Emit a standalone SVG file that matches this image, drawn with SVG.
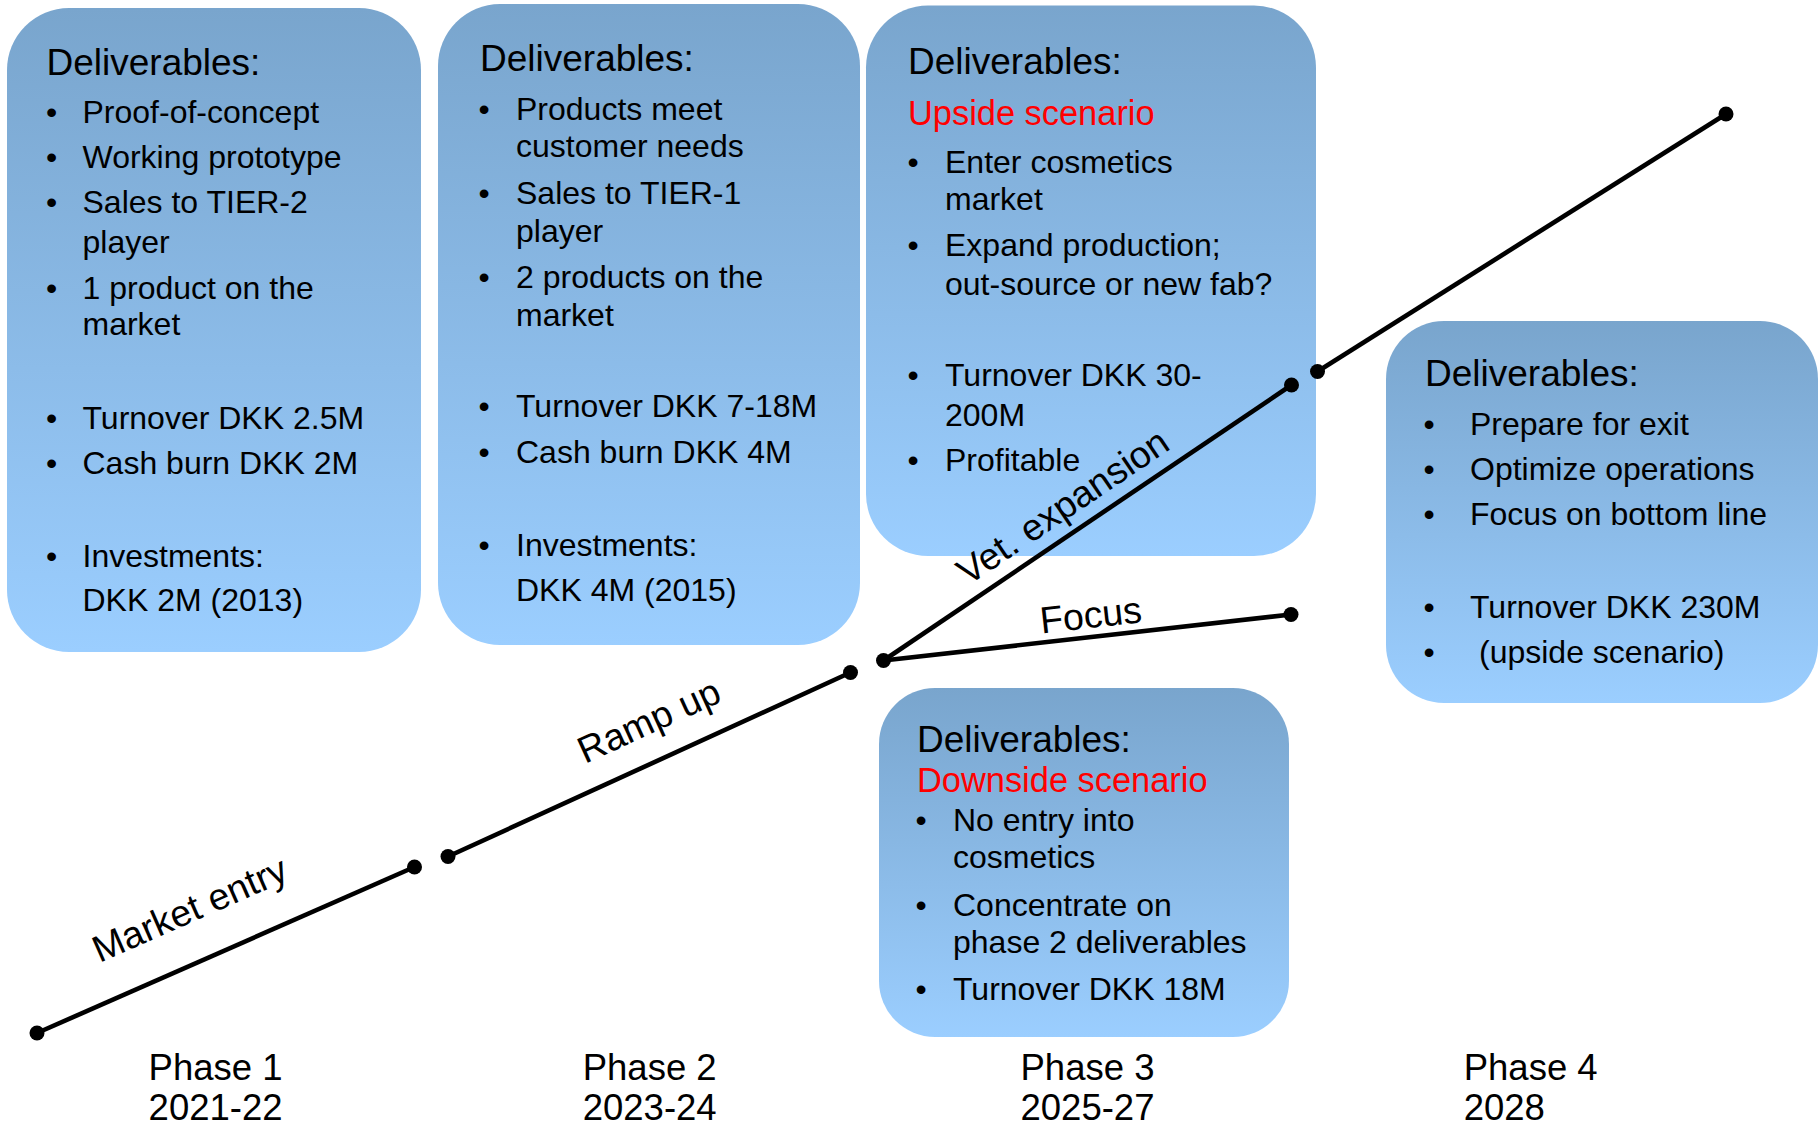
<svg xmlns="http://www.w3.org/2000/svg" width="1820" height="1125" viewBox="0 0 1820 1125">
<defs>
<linearGradient id="boxfill" x1="0" y1="0" x2="0" y2="1">
<stop offset="0" stop-color="#79A5CD"/>
<stop offset="1" stop-color="#9BCEFF"/>
</linearGradient>
</defs>
<style>
text{font-family:"Liberation Sans",Arial,sans-serif;fill:#000}
.box{fill:url(#boxfill)}
.title{font-size:37px}
.red{font-size:34.4px;fill:#FF0000}
.item{font-size:32px}
.phase{font-size:36.5px}
.lbl{font-size:37.5px}
.conn{stroke:#000;stroke-width:4.6;fill:none}
.dot{fill:#000}
</style>
<rect width="1820" height="1125" fill="#FFFFFF"/>

<g id="phase1">
<rect class="box" x="7" y="8" width="414" height="644" rx="62" ry="62"/>
<text class="title" x="46.5" y="75">Deliverables:</text>
<g class="item">
<text x="46" y="123">•</text><text x="82.5" y="123">Proof-of-concept</text>
<text x="46" y="167.5">•</text><text x="82.5" y="167.5">Working prototype</text>
<text x="46" y="212.5">•</text><text x="82.5" y="212.5">Sales to TIER-2</text>
<text x="82.5" y="252.5">player</text>
<text x="46" y="298.5">•</text><text x="82.5" y="298.5">1 product on the</text>
<text x="82.5" y="334.5">market</text>
<text x="46" y="429">•</text><text x="82.5" y="429">Turnover DKK 2.5M</text>
<text x="46" y="474">•</text><text x="82.5" y="474">Cash burn DKK 2M</text>
<text x="46" y="567">•</text><text x="82.5" y="567">Investments:</text>
<text x="82.5" y="611">DKK 2M (2013)</text>
</g>
</g>

<g id="phase2">
<rect class="box" x="438" y="4" width="422" height="641" rx="62" ry="62"/>
<text class="title" x="480" y="70.5">Deliverables:</text>
<g class="item">
<text x="478.5" y="120">•</text><text x="516" y="120">Products meet</text>
<text x="516" y="156.5">customer needs</text>
<text x="478.5" y="204">•</text><text x="516" y="204">Sales to TIER-1</text>
<text x="516" y="242">player</text>
<text x="478.5" y="288">•</text><text x="516" y="288">2 products on the</text>
<text x="516" y="326">market</text>
<text x="478.5" y="417">•</text><text x="516" y="417">Turnover DKK 7-18M</text>
<text x="478.5" y="462.5">•</text><text x="516" y="462.5">Cash burn DKK 4M</text>
<text x="478.5" y="556">•</text><text x="516" y="556">Investments:</text>
<text x="516" y="601">DKK 4M (2015)</text>
</g>
</g>

<g id="phase3-upside">
<rect class="box" x="866" y="5.5" width="450" height="550.5" rx="62" ry="62"/>
<text class="title" x="908" y="74">Deliverables:</text>
<text class="red" x="908" y="125">Upside scenario</text>
<g class="item">
<text x="907.5" y="173">•</text><text x="945" y="173">Enter cosmetics</text>
<text x="945" y="210">market</text>
<text x="907.5" y="255.5">•</text><text x="945" y="255.5">Expand production;</text>
<text x="945" y="295">out-source or new fab?</text>
<text x="907.5" y="386">•</text><text x="945" y="386">Turnover DKK 30-</text>
<text x="945" y="426">200M</text>
<text x="907.5" y="471">•</text><text x="945" y="471">Profitable</text>
</g>
</g>

<g id="phase4">
<rect class="box" x="1386" y="321" width="432" height="382" rx="58" ry="58"/>
<text class="title" x="1425" y="386">Deliverables:</text>
<g class="item">
<text x="1423.5" y="435">•</text><text x="1470" y="435">Prepare for exit</text>
<text x="1423.5" y="480">•</text><text x="1470" y="480">Optimize operations</text>
<text x="1423.5" y="525">•</text><text x="1470" y="525">Focus on bottom line</text>
<text x="1423.5" y="618">•</text><text x="1470" y="618">Turnover DKK 230M</text>
<text x="1423.5" y="663">•</text><text x="1479" y="663">(upside scenario)</text>
</g>
</g>

<g id="phase3-downside">
<rect class="box" x="879" y="688" width="410" height="349" rx="56" ry="56"/>
<text class="title" x="917" y="752">Deliverables:</text>
<text class="red" x="917" y="792">Downside scenario</text>
<g class="item">
<text x="915.5" y="831">•</text><text x="953" y="831">No entry into</text>
<text x="953" y="868">cosmetics</text>
<text x="915.5" y="916">•</text><text x="953" y="916">Concentrate on</text>
<text x="953" y="953">phase 2 deliverables</text>
<text x="915.5" y="1000">•</text><text x="953" y="1000">Turnover DKK 18M</text>
</g>
</g>

<g id="connectors">
<line class="conn" x1="37" y1="1033" x2="414.5" y2="867"/>
<line class="conn" x1="448" y1="856.5" x2="850.5" y2="672.5"/>
<line class="conn" x1="883.5" y1="660.5" x2="1291.5" y2="385"/>
<line class="conn" x1="883.5" y1="660.5" x2="1291" y2="614.5"/>
<line class="conn" x1="1317.5" y1="371.5" x2="1726" y2="114"/>
<circle class="dot" cx="37" cy="1033" r="7.5"/>
<circle class="dot" cx="414.5" cy="867" r="7.5"/>
<circle class="dot" cx="448" cy="856.5" r="7.5"/>
<circle class="dot" cx="850.5" cy="672.5" r="7.5"/>
<circle class="dot" cx="883.5" cy="660.5" r="7.5"/>
<circle class="dot" cx="1291.5" cy="385" r="7.5"/>
<circle class="dot" cx="1291" cy="614.5" r="7.5"/>
<circle class="dot" cx="1317.5" cy="371.5" r="7.5"/>
<circle class="dot" cx="1726" cy="114" r="7.5"/>
<text class="lbl" transform="translate(99.5 963) rotate(-23.75)">Market entry</text>
<text class="lbl" transform="translate(585 764) rotate(-24.57)">Ramp up</text>
<text class="lbl" transform="translate(968 586) rotate(-34.03)">Vet. expansion</text>
<text class="lbl" transform="translate(1041.5 633.5) rotate(-6.4)">Focus</text>
</g>

<g id="phase-labels">
<text class="phase" x="148.6" y="1079.5">Phase 1</text>
<text class="phase" x="148.6" y="1120">2021-22</text>
<text class="phase" x="582.7" y="1079.5">Phase 2</text>
<text class="phase" x="582.7" y="1120">2023-24</text>
<text class="phase" x="1020.5" y="1079.5">Phase 3</text>
<text class="phase" x="1020.5" y="1120">2025-27</text>
<text class="phase" x="1463.7" y="1079.5">Phase 4</text>
<text class="phase" x="1463.7" y="1120">2028</text>
</g>
</svg>
